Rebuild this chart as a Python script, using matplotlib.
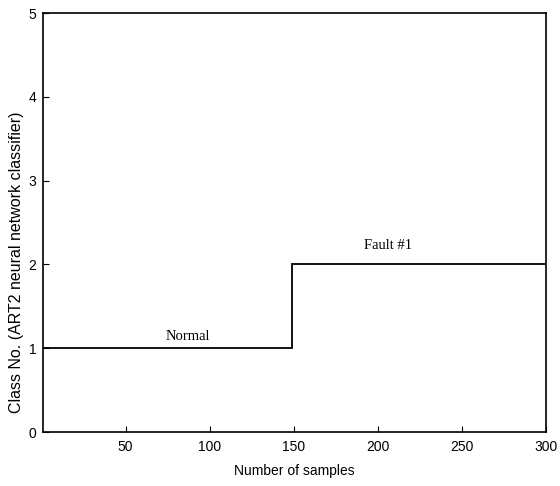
import numpy as np
import matplotlib.pyplot as plt

# class assigned by the ART2 classifier over the sample ranges
sample_edges = [1, 149, 300]
class_no = [1, 2]
labels = ['Normal', 'Fault #1']
label_x = [87, 206]
label_y = [1.10, 2.18]

plt.rcParams['font.family'] = 'Liberation Sans'

fig = plt.figure(figsize=(5.6, 4.86), dpi=100)
ax = fig.add_axes([0.077, 0.111, 0.898, 0.862])

ax.stairs(class_no, sample_edges, baseline=None, color='black', linewidth=1.3)
for lx, ly, lab in zip(label_x, label_y, labels):
    ax.text(lx, ly, lab, ha='center', va='baseline',
            family='Liberation Serif', fontsize=10.5)

ax.set_xlim(1, 300)
ax.set_ylim(0, 5)
ax.set_xticks([50, 100, 150, 200, 250, 300])
ax.set_yticks([0, 1, 2, 3, 4, 5])
ax.tick_params(direction='in', length=4, labelsize=10)
ax.tick_params(axis='x', pad=6)
ax.tick_params(axis='y', pad=5)
for s in ax.spines.values():
    s.set_linewidth(1.2)
ax.set_xlabel('Number of samples', fontsize=10, labelpad=7)
ax.set_ylabel('Class No. (ART2 neural network classifier)', fontsize=11.5)
ax.yaxis.set_label_coords(-0.038, 0.405)

plt.savefig('out.png', dpi=100)
